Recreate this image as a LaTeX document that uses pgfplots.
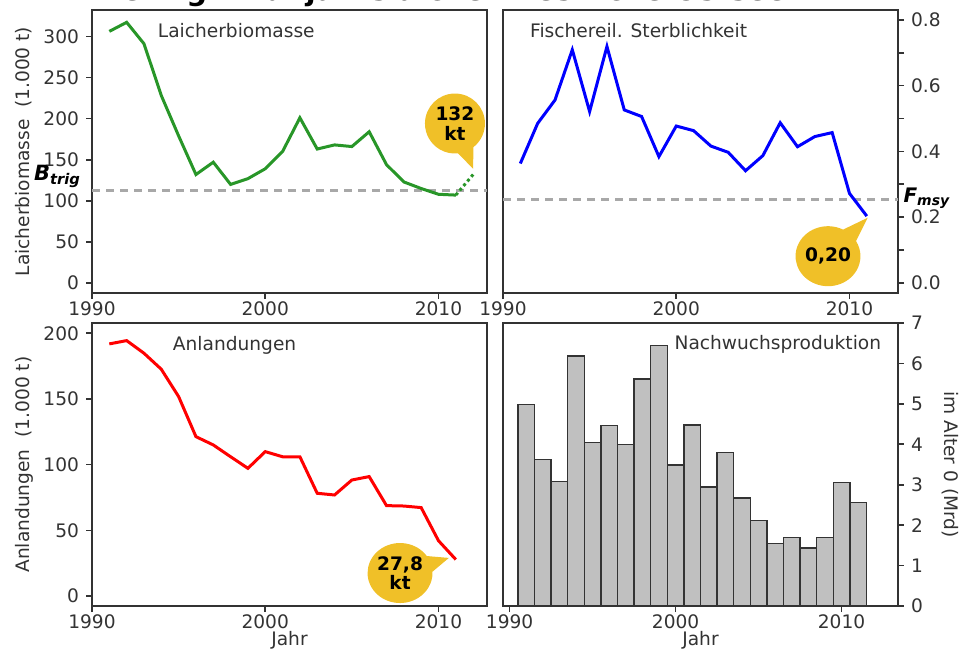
\documentclass[border=0pt]{standalone}
\usepackage{fontspec}
\setmainfont{DejaVu Sans}
\usepackage{pgfplots}
\pgfplotsset{compat=1.18}
\usetikzlibrary{shapes.callouts}
\definecolor{axgray}{HTML}{333333}
\definecolor{lgreen}{RGB}{40,150,40}
\definecolor{cyellow}{RGB}{240,192,40}
\definecolor{dashgray}{RGB}{168,168,168}
\definecolor{barfill}{RGB}{192,192,192}
\newcommand{\fs}{\fontsize{9.3}{11}\selectfont}
\pgfplotsset{
 panel/.style={
  scale only axis, width=197.5pt, height=141.5pt, anchor=south west,
  axis line style={axgray, line width=1pt},
  every tick/.style={axgray, line width=0.8pt},
  tick align=outside, major tick length=3pt, minor tick length=3pt,
  tick label style={font=\fs, text=axgray},
  xticklabel style={yshift=2pt},
  label style={font=\fs, text=axgray},
  /pgf/number format/assume math mode=true,
  /pgf/number format/1000 sep={},
  xmin=1990, xmax=2012.8, xtick={1990,2000,2010},
  xtick pos=bottom,
  clip=false,
 },
}
\tikzset{
 bubble/.style={ellipse callout, fill=cyellow, draw=none, minimum width=30pt,
  minimum height=30pt, inner sep=0pt, callout pointer arc=32,
  font=\fontsize{9.3}{9.6}\selectfont\bfseries, align=center, text=black},
 ptitle/.style={font=\fs, text=axgray},
}
\begin{document}
\begin{tikzpicture}
\useasboundingbox (0,0) rectangle (480pt,325pt);
\node[anchor=base, font=\fontsize{14.5}{16}\selectfont\bfseries] at (221pt,324.6pt) {Hering: Frühjahrslaicher westliche Ostsee};

% Top left: Laicherbiomasse
\begin{axis}[panel, at={(46pt,178.5pt)},
  ymin=-12, ymax=332, ytick={0,50,100,150,200,250,300}, ytick pos=left,
  ylabel={Laicherbiomasse\ \ (1.000 t)},
  ylabel style={at={(axis description cs:-0.172,0.5)}, anchor=center}]
\addplot[dashgray, line width=1.5pt, dash pattern=on 4pt off 3pt] coordinates {(1990,113) (2012.8,113)};
\addplot[lgreen, line width=1.5pt] coordinates {
(1991,306) (1992,317) (1993,291) (1994,228) (1995,179) (1996,132) (1997,147)
(1998,120) (1999,127) (2000,139) (2001,160) (2002,201) (2003,163) (2004,168)
(2005,166) (2006,184) (2007,144) (2008,123) (2009,115) (2010,108) (2011,107)};
\addplot[lgreen, line width=1.5pt, dash pattern=on 1.5pt off 1.5pt] coordinates {(2011,107) (2012,132)};
\node[ptitle, anchor=west] at (rel axis cs:0.149,0.926) {Laicherbiomasse};
\node[anchor=east, font=\fontsize{10.5}{12}\selectfont\bfseries\itshape] at (rel axis cs:-0.010,0.413) {B\textsubscript{trig}};
\node[bubble, callout absolute pointer={(axis cs:2012,139)}] at (axis cs:2010.95,194) {132\\kt};
\end{axis}

% Top right: Fischereil. Sterblichkeit
\begin{axis}[panel, at={(251.5pt,178.5pt)},
  ymin=-0.031, ymax=0.830, ytick={0,0.2,0.4,0.6,0.8}, minor ytick={0.1,0.3,0.5,0.7},
  ytick pos=right, yticklabel pos=right,
  yticklabel style={/pgf/number format/.cd, fixed, fixed zerofill, precision=1}]
\addplot[dashgray, line width=1.5pt, dash pattern=on 4pt off 3pt] coordinates {(1990,0.252) (2012.8,0.252)};
\addplot[blue, line width=1.5pt] coordinates {
(1991,0.363) (1992,0.485) (1993,0.556) (1994,0.709) (1995,0.521) (1996,0.719) (1997,0.526)
(1998,0.506) (1999,0.384) (2000,0.477) (2001,0.463) (2002,0.416) (2003,0.397) (2004,0.341)
(2005,0.387) (2006,0.487) (2007,0.414) (2008,0.445) (2009,0.457) (2010,0.272) (2011,0.203)};
\node[ptitle, anchor=west] at (rel axis cs:0.051,0.926) {Fischereil. Sterblichkeit};
\node[anchor=west, font=\fontsize{10}{12}\selectfont\bfseries\itshape, inner sep=0pt] at (rel axis cs:1.013,0.335) {F\textsubscript{msy}};
\node[bubble, callout absolute pointer={(axis cs:2011.05,0.198)}] at (axis cs:2008.76,0.081) {0,20};
\end{axis}

% Bottom left: Anlandungen
\begin{axis}[panel, at={(46pt,22pt)},
  ymin=-7.6, ymax=207.8, ytick={0,50,100,150,200}, ytick pos=left,
  ylabel={Anlandungen\ \ (1.000 t)},
  ylabel style={at={(axis description cs:-0.172,0.5)}, anchor=center},
  xlabel={Jahr},
  xlabel style={at={(axis description cs:0.5,-0.121)}, anchor=center}]
\addplot[red, line width=1.5pt] coordinates {
(1991,191.9) (1992,194.4) (1993,184.8) (1994,172.6) (1995,151.8) (1996,121.3) (1997,115)
(1998,106) (1999,97.2) (2000,109.9) (2001,106) (2002,106) (2003,78.2) (2004,76.9)
(2005,88.3) (2006,90.9) (2007,68.8) (2008,68.5) (2009,67.3) (2010,42.1) (2011,27.8)};
\node[ptitle, anchor=west] at (rel axis cs:0.187,0.922) {Anlandungen};
\node[bubble, callout absolute pointer={(axis cs:2010.6,29)}] at (axis cs:2007.78,17.5) {27,8\\kt};
\end{axis}

% Bottom right: Nachwuchsproduktion
\begin{axis}[panel, at={(251.5pt,22pt)},
  xmin=1989.6, xmax=2013.4,
  ymin=0, ymax=7, ytick={0,1,2,3,4,5,6,7},
  ytick pos=right, yticklabel pos=right,
  ylabel={im Alter 0 (Mrd)},
  ylabel style={at={(axis description cs:1.132,0.5)}, anchor=center, rotate=180},
  xlabel={Jahr},
  xlabel style={at={(axis description cs:0.5,-0.121)}, anchor=center}]
\addplot[ybar, bar width=1, fill=barfill, draw=axgray, line width=0.7pt] coordinates {
(1991,4.98) (1992,3.63) (1993,3.08) (1994,6.18) (1995,4.05) (1996,4.47) (1997,3.99)
(1998,5.62) (1999,6.45) (2000,3.49) (2001,4.48) (2002,2.94) (2003,3.80) (2004,2.67)
(2005,2.11) (2006,1.55) (2007,1.69) (2008,1.43) (2009,1.69) (2010,3.06) (2011,2.56)};
\node[ptitle, anchor=east] at (rel axis cs:0.975,0.926) {Nachwuchsproduktion};
\end{axis}
\end{tikzpicture}
\end{document}
